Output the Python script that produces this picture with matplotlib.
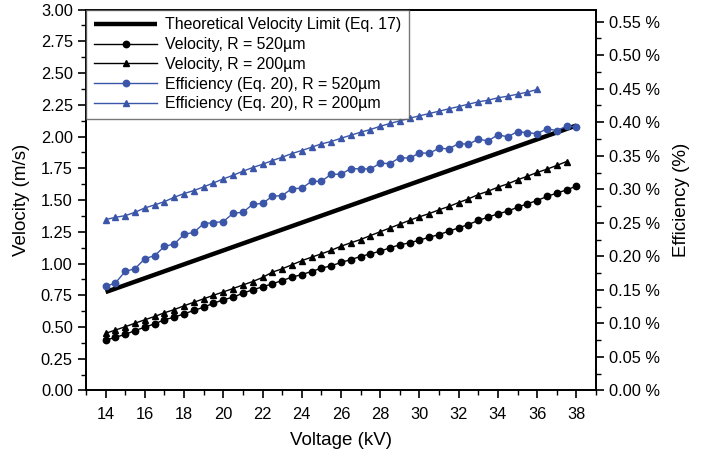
import matplotlib
matplotlib.use("Agg")
import matplotlib.pyplot as plt
from matplotlib.ticker import MultipleLocator, FuncFormatter
import numpy as np

plt.rcParams["font.family"] = ["Liberation Sans", "DejaVu Sans"]

BLUE = "#3b56a8"

# voltage steps (kV)
v_full = np.arange(14.0, 38.01, 0.5)   # 14 .. 38
v_200 = np.arange(14.0, 37.51, 0.5)    # 14 .. 37.5
v_eff200 = np.arange(14.0, 36.01, 0.5) # 14 .. 36

theory_v = [14, 38]
theory = [0.775, 2.087]

vel_520 = [0.394, 0.420, 0.441, 0.472, 0.498, 0.525, 0.557, 0.577, 0.604, 0.630,
           0.656, 0.687, 0.714, 0.735, 0.766, 0.793, 0.816, 0.840, 0.866, 0.892,
           0.913, 0.937, 0.963, 0.982, 1.008, 1.031, 1.055, 1.076, 1.097, 1.124,
           1.147, 1.163, 1.184, 1.207, 1.228, 1.254, 1.281, 1.307, 1.339, 1.365,
           1.391, 1.412, 1.443, 1.470, 1.496, 1.528, 1.554, 1.580, 1.609]

vel_200 = [0.450, 0.476, 0.502, 0.530, 0.557, 0.583, 0.612, 0.637, 0.667, 0.695,
           0.722, 0.750, 0.776, 0.803, 0.831, 0.858, 0.890, 0.932, 0.958, 0.990,
           1.022, 1.050, 1.076, 1.104, 1.136, 1.163, 1.189, 1.220, 1.250, 1.280,
           1.310, 1.340, 1.368, 1.393, 1.423, 1.449, 1.480, 1.509, 1.543, 1.569,
           1.601, 1.627, 1.659, 1.687, 1.717, 1.743, 1.772, 1.803]

eff_520 = [0.1552, 0.1603, 0.1776, 0.1816, 0.1966, 0.2010, 0.2149, 0.2185, 0.2328, 0.2358,
           0.2488, 0.2503, 0.2518, 0.2642, 0.2657, 0.2776, 0.2789, 0.2896, 0.2906, 0.3010,
           0.3015, 0.3119, 0.3119, 0.3224, 0.3224, 0.3309, 0.3304, 0.3304, 0.3388, 0.3384,
           0.3473, 0.3463, 0.3543, 0.3537, 0.3612, 0.3603, 0.3682, 0.3672, 0.3746, 0.3722,
           0.3812, 0.3782, 0.3861, 0.3842, 0.3831, 0.3901, 0.3876, 0.3940, 0.3931]

eff_200 = [0.2548, 0.2582, 0.2607, 0.2657, 0.2722, 0.2767, 0.2816, 0.2881, 0.2936, 0.2981,
           0.3036, 0.3095, 0.3155, 0.3209, 0.3269, 0.3324, 0.3373, 0.3428, 0.3478, 0.3533,
           0.3578, 0.3627, 0.3677, 0.3712, 0.3761, 0.3806, 0.3851, 0.3891, 0.3940, 0.3981,
           0.4021, 0.4060, 0.4095, 0.4130, 0.4164, 0.4200, 0.4234, 0.4269, 0.4304, 0.4328,
           0.4364, 0.4388, 0.4418, 0.4448, 0.4488]

fig = plt.figure(figsize=(7.09, 4.54), dpi=100)
ax = fig.add_axes([0.1213, 0.1399, 0.7193, 0.8391])
ax2 = ax.twinx()

h1, = ax.plot(theory_v, theory, color="black", lw=3.2, solid_capstyle="butt",
              label="Theoretical Velocity Limit (Eq. 17)")
h2, = ax.plot(v_full, vel_520, color="black", lw=1.0, marker="o", ms=4.6,
              label="Velocity, R = 520\u00b5m")
h3, = ax.plot(v_200, vel_200, color="black", lw=1.0, marker="^", ms=5.0,
              label="Velocity, R = 200\u00b5m")
h4, = ax2.plot(v_full, eff_520, color=BLUE, lw=1.0, marker="o", ms=4.6,
               label="Efficiency (Eq. 20), R = 520\u00b5m")
h5, = ax2.plot(v_eff200, eff_200, color=BLUE, lw=1.0, marker="^", ms=5.0,
               label="Efficiency (Eq. 20), R = 200\u00b5m")

ax.set_xlim(13, 39)
ax.set_ylim(0, 3.0)
ax2.set_ylim(0, 0.568)

ax.xaxis.set_major_locator(MultipleLocator(2))
ax.xaxis.set_minor_locator(MultipleLocator(1))
ax.yaxis.set_major_locator(MultipleLocator(0.25))
ax.yaxis.set_minor_locator(MultipleLocator(0.125))
ax.yaxis.set_major_formatter(FuncFormatter(lambda y, p: f"{y:.2f}"))
ax2.yaxis.set_major_locator(MultipleLocator(0.05))
ax2.yaxis.set_minor_locator(MultipleLocator(0.025))
ax2.yaxis.set_major_formatter(FuncFormatter(lambda y, p: f"{y:.2f} %"))

for a in (ax, ax2):
    a.tick_params(which="major", direction="out", length=6, width=1.2, labelsize=11.8)
    a.tick_params(which="minor", direction="out", length=3.5, width=1.0)
    for s in a.spines.values():
        s.set_linewidth(1.3)
ax.tick_params(axis="x", pad=6)

ax.set_xlabel("Voltage (kV)", fontsize=13.5, labelpad=7)
ax.set_ylabel("Velocity (m/s)", fontsize=13.5, labelpad=8)
ax2.set_ylabel("Efficiency (%)", fontsize=13.5, labelpad=9)

leg = ax2.legend(handles=[h1, h2, h3, h4, h5], loc="upper left", fontsize=11.4,
                 frameon=True, fancybox=False, borderaxespad=0, handlelength=4.0,
                 handletextpad=0.5, labelspacing=0.3, borderpad=0.5)
leg.get_frame().set_edgecolor("#555555")
leg.get_frame().set_linewidth(1.0)

fig.savefig("out.png", dpi=100)
